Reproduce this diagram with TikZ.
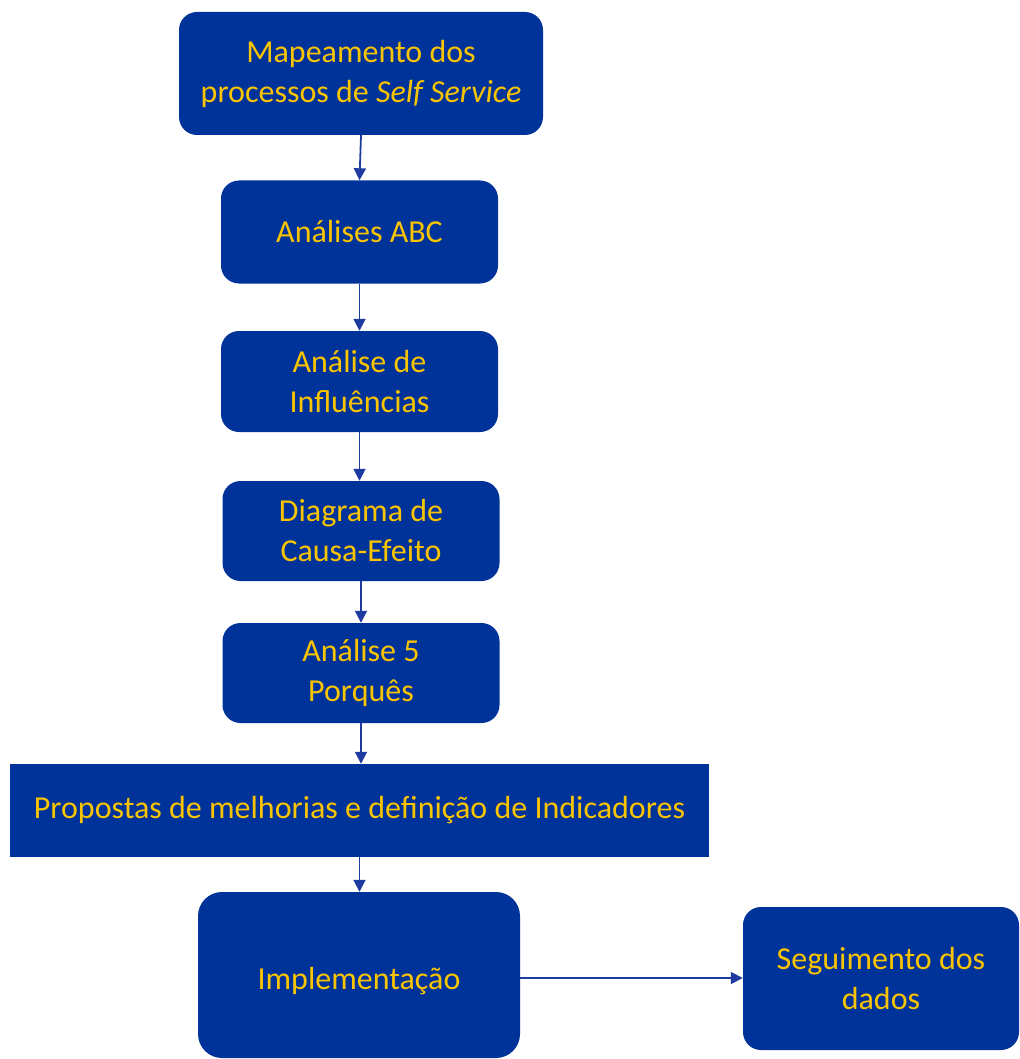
\documentclass[tikz,border=0pt]{standalone}
\usepackage{fontspec}
\setmainfont{Carlito}
\usetikzlibrary{arrows.meta}
\definecolor{boxblue}{RGB}{0,51,153}
\definecolor{textgold}{RGB}{250,196,0}
\definecolor{linkblue}{RGB}{30,60,160}
\tikzset{
  stage/.style={fill=boxblue, draw=none, rounded corners=18pt, inner sep=0pt,
    align=center, text=textgold, font=\fontsize{32}{40}\selectfont},
  flatstage/.style={stage, rounded corners=0pt},
  link/.style={draw=linkblue, line width=1.8pt,
    -{Triangle[length=12pt,width=12pt]}}
}
\begin{document}
\begin{tikzpicture}[x=1pt,y=-1pt]
\useasboundingbox (0,0) rectangle (1019,1059);
\node[stage, minimum width=364pt, minimum height=123pt] (map) at (361,73.5)
  {Mapeamento dos\\processos de \textit{Self Service}};
\node[stage, minimum width=277pt, minimum height=103pt] (abc) at (359.5,232)
  {Análises ABC};
\node[stage, minimum width=277pt, minimum height=101pt] (infl) at (359.5,381.5)
  {Análise de\\Influências};
\node[stage, minimum width=277pt, minimum height=100pt] (cause) at (361,531)
  {Diagrama de\\Causa-Efeito};
\node[stage, minimum width=277pt, minimum height=100pt] (why) at (361,673)
  {Análise 5\\Porquês};
\node[flatstage, minimum width=699pt, minimum height=93pt] (prop) at (359.5,810.5)
  {Propostas de melhorias e definição de Indicadores};
% tall box: text sits a little below the geometric centre
\node[stage, minimum width=322pt, minimum height=166pt, rounded corners=24pt,
  text depth=4pt, text height=32pt] (impl) at (359,975)
  {Implementação};
\node[stage, minimum width=276pt, minimum height=143pt] (follow) at (881,978.5)
  {Seguimento dos\\dados};

\draw[link] (map.south) -- (abc.north);
\draw[link] (abc.south) -- (infl.north);
\draw[link] (infl.south) -- (infl.south |- cause.north);
\draw[link] (cause.south) -- (why.north);
\draw[link] (why.south) -- (why.south |- prop.north);
\draw[link] (prop.south) -- (prop.south |- impl.north);
\draw[link] (impl.east) ++(0,3) -- (follow.west |- 0,978);
\end{tikzpicture}
\end{document}
